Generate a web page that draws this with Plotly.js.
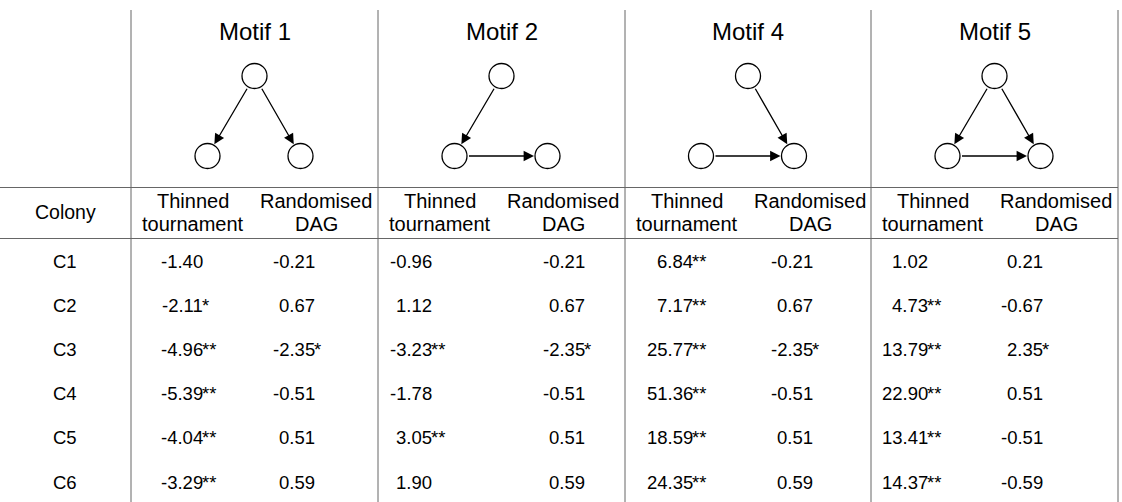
<!DOCTYPE html>
<html>
<head>
<meta charset="utf-8">
<script src="https://cdn.plot.ly/plotly-3.0.1.min.js"></script>
<style>html,body{margin:0;padding:0;background:#fff}#chart{width:1122px;height:502px}</style>
</head>
<body>
<div id="chart"></div>
<script>
// ---------------- data ----------------
const colonies = ['C1', 'C2', 'C3', 'C4', 'C5', 'C6'];
const motifNames = ['Motif 1', 'Motif 2', 'Motif 4', 'Motif 5'];
const subHeaderThinned = ['Thinned', 'tournament'];
const subHeaderRandom = ['Randomised', 'DAG'];
const colonyHeader = 'Colony';

// z-scores per column and significance stars (number of asterisks)
const m1Thinned = [-1.40, -2.11, -4.96, -5.39, -4.04, -3.29];
const m1ThinnedSig = [0, 1, 2, 2, 2, 2];
const m1Random = [-0.21, 0.67, -2.35, -0.51, 0.51, 0.59];
const m1RandomSig = [0, 0, 1, 0, 0, 0];
const m2Thinned = [-0.96, 1.12, -3.23, -1.78, 3.05, 1.90];
const m2ThinnedSig = [0, 0, 2, 0, 2, 0];
const m2Random = [-0.21, 0.67, -2.35, -0.51, 0.51, 0.59];
const m2RandomSig = [0, 0, 1, 0, 0, 0];
const m4Thinned = [6.84, 7.17, 25.77, 51.36, 18.59, 24.35];
const m4ThinnedSig = [2, 2, 2, 2, 2, 2];
const m4Random = [-0.21, 0.67, -2.35, -0.51, 0.51, 0.59];
const m4RandomSig = [0, 0, 1, 0, 0, 0];
const m5Thinned = [1.02, 4.73, 13.79, 22.90, 13.41, 14.37];
const m5ThinnedSig = [0, 2, 2, 2, 2, 2];
const m5Random = [0.21, -0.67, 2.35, 0.51, -0.51, -0.59];
const m5RandomSig = [0, 0, 1, 0, 0, 0];

// motif graph structure: edges between Top, Left, Right nodes
const m1Edges = [['T', 'L'], ['T', 'R']];
const m2Edges = [['T', 'L'], ['L', 'R']];
const m4Edges = [['T', 'R'], ['L', 'R']];
const m5Edges = [['T', 'L'], ['T', 'R'], ['L', 'R']];

// ---------------- layout geometry ----------------
const W = 1122, H = 502;
const FONT = 'Liberation Sans, Arial, Helvetica, sans-serif';
const colBounds = [131, 378, 625, 871, 1118];
const lineColor = '#666666';
const rowY0 = 261, rowStep = 44.2;
const valueRight = [[72, 184], [54, 207], [68, 188], [57, 172]];
const subHeaderX = [62, 185];
const nodeOffsets = {T: [0, 76], L: [-47, 156], R: [46, 156]};
const nodeRadius = 12.5;

const columns = [
  [[m1Thinned, m1ThinnedSig], [m1Random, m1RandomSig]],
  [[m2Thinned, m2ThinnedSig], [m2Random, m2RandomSig]],
  [[m4Thinned, m4ThinnedSig], [m4Random, m4RandomSig]],
  [[m5Thinned, m5ThinnedSig], [m5Random, m5RandomSig]]
];
const edgesList = [m1Edges, m2Edges, m4Edges, m5Edges];

const annotations = [];
const shapes = [];
const traces = [];

function txt(x, y, text, size, xanchor) {
  annotations.push({
    x: x, y: y, xref: 'x', yref: 'y', text: text, showarrow: false,
    xanchor: xanchor || 'center', yanchor: 'middle',
    font: {family: FONT, size: size, color: '#000'}, borderpad: 0
  });
}

// grid lines
colBounds.forEach(x => shapes.push({type: 'line', xref: 'x', yref: 'y', x0: x, x1: x, y0: 10, y1: H,
  line: {color: lineColor, width: 1}}));
[187.5, 238.5].forEach(y => shapes.push({type: 'line', xref: 'x', yref: 'y', x0: 0, x1: colBounds[4], y0: y, y1: y,
  line: {color: lineColor, width: 1}}));

// colony column
txt(65, 212, colonyHeader, 19.5);
colonies.forEach((c, i) => txt(65, rowY0 + i * rowStep, c, 18.5));

// motif blocks
motifNames.forEach((name, m) => {
  const left = colBounds[m];
  const cx = (colBounds[m] + colBounds[m + 1]) / 2;
  txt(cx, 31.5, name, 24);
  // sub headers
  txt(left + subHeaderX[0], 200.5, subHeaderThinned[0], 20);
  txt(left + subHeaderX[0], 224, subHeaderThinned[1], 20);
  txt(left + subHeaderX[1], 200.5, subHeaderRandom[0], 20);
  txt(left + subHeaderX[1], 224, subHeaderRandom[1], 20);
  // values
  columns[m].forEach((col, k) => {
    const xr = left + valueRight[m][k];
    col[0].forEach((v, i) => {
      const y = rowY0 + i * rowStep;
      txt(xr + 1, y, v.toFixed(2), 18.5, 'right');
      if (col[1][i] > 0) txt(xr - 2.5, y, '*'.repeat(col[1][i]), 18.5, 'left');
    });
  });
  // motif graph nodes
  const nx = [], ny = [];
  ['T', 'L', 'R'].forEach(k => { nx.push(cx + nodeOffsets[k][0]); ny.push(nodeOffsets[k][1]); });
  traces.push({
    type: 'scatter', mode: 'markers', x: nx, y: ny, hoverinfo: 'skip', showlegend: false,
    marker: {symbol: 'circle', size: nodeRadius * 2, color: '#ffffff', line: {color: '#000', width: 1.3}}
  });
  // edges
  edgesList[m].forEach(e => {
    const s = nodeOffsets[e[0]], t = nodeOffsets[e[1]];
    annotations.push({
      x: cx + t[0], y: t[1], ax: cx + s[0], ay: s[1], xref: 'x', yref: 'y', axref: 'x', ayref: 'y',
      text: '', showarrow: true, arrowhead: 2, arrowsize: 1.6, arrowwidth: 1.3, arrowcolor: '#000',
      standoff: nodeRadius + 1, startstandoff: nodeRadius + 0.5
    });
  });
});

const layout = {
  width: W, height: H,
  margin: {l: 0, r: 0, t: 0, b: 0},
  paper_bgcolor: '#fff', plot_bgcolor: '#fff',
  xaxis: {range: [0, W], visible: false, fixedrange: true},
  yaxis: {range: [H, 0], visible: false, fixedrange: true},
  shapes: shapes, annotations: annotations, showlegend: false
};
Plotly.newPlot('chart', traces, layout, {displayModeBar: false, staticPlot: true});
</script>
</body>
</html>
